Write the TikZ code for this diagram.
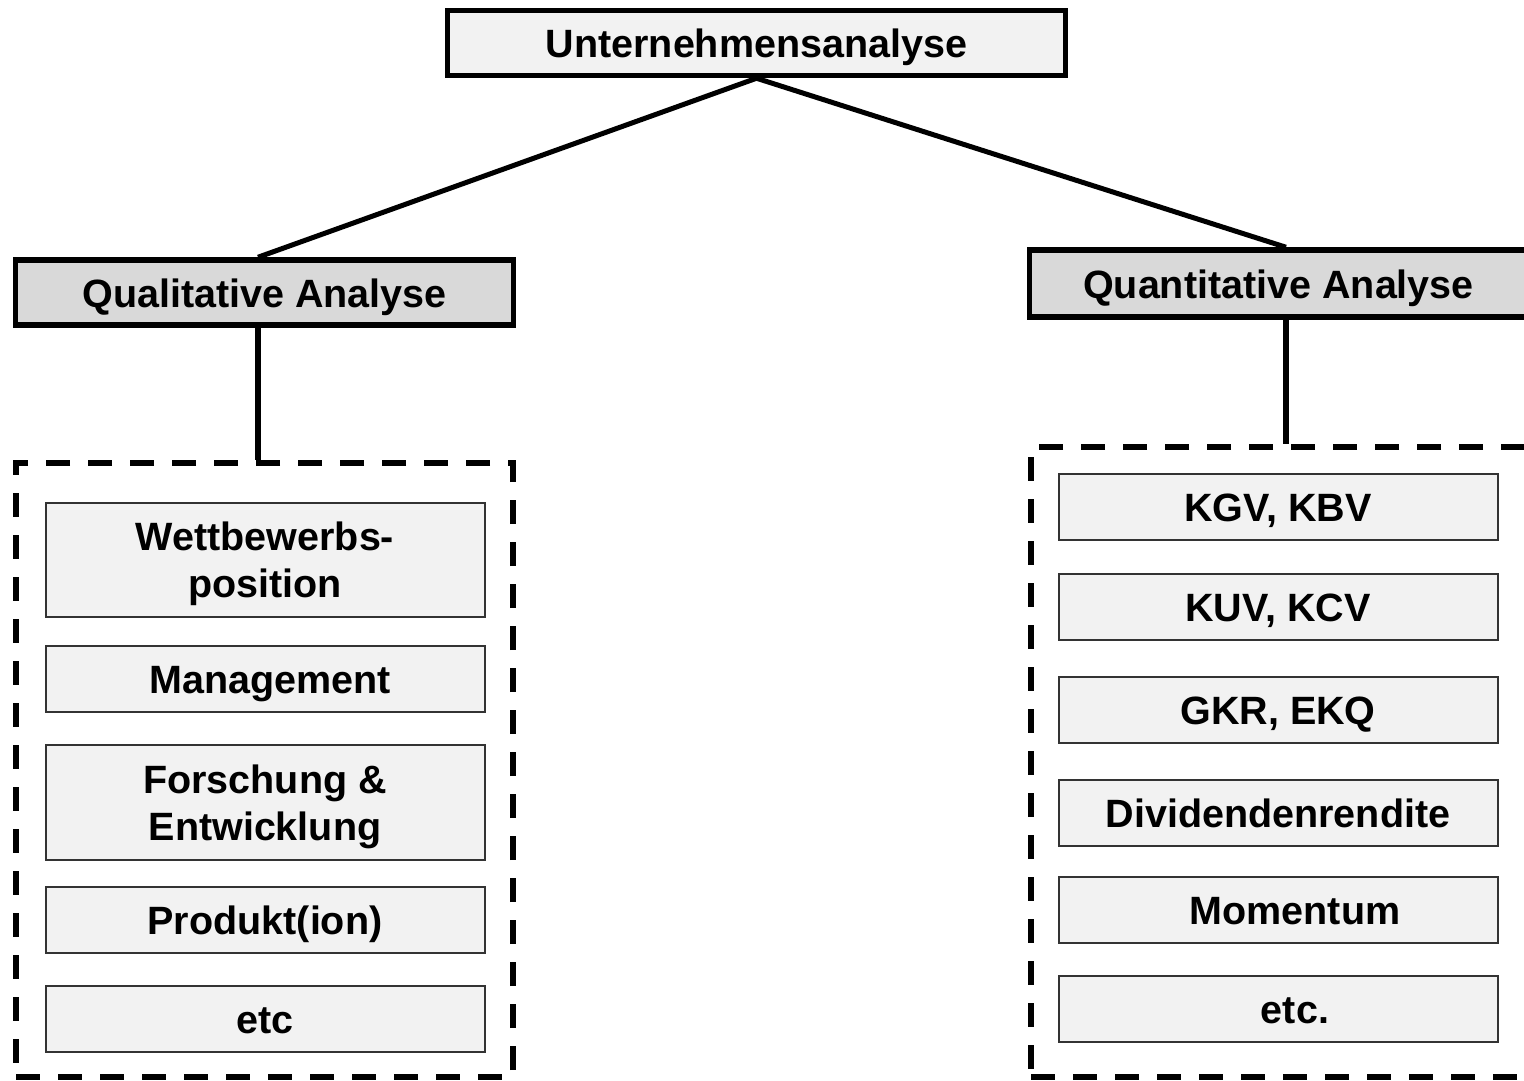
\documentclass[tikz,border=0pt]{standalone}
\usepackage{fontspec}
\setmainfont{Liberation Sans}
\definecolor{boxlight}{HTML}{F2F2F2}
\definecolor{boxmid}{HTML}{D9D9D9}
\tikzset{
  lbl/.style={font=\fontsize{39.5}{47}\selectfont\bfseries, align=center, inner sep=0pt, text height=37pt, text depth=8pt},
  twoline/.style={text height=, text depth=},
  topbox/.style={lbl, draw, line width=5.5pt, fill=boxlight, minimum width=618pt, minimum height=65pt},
  catbox/.style={lbl, draw, line width=5.5pt, fill=boxmid, minimum width=498pt, minimum height=65pt},
  itembox/.style={lbl, draw=black!80, line width=2pt, fill=boxlight, minimum width=439pt, minimum height=66pt},
  conn/.style={line width=5pt},
  stem/.style={line width=6pt},
  group/.style={draw, line width=6pt, dash pattern=on 24pt off 18pt, inner sep=0pt}
}
\newcommand{\firststrut}{\rule{0pt}{38pt}}
\begin{document}
\begin{tikzpicture}[x=1pt,y=-1pt]
\useasboundingbox (0,0) rectangle (1524,1081);
\clip (0,0) rectangle (1524,1081);
% group frames
\node[group, minimum width=497pt, minimum height=614pt] (gL) at (264.5,770) {};
\node[group, minimum width=499pt, minimum height=630pt] (gR) at (1280.5,762) {};
% top and category boxes
\node[topbox] (top) at (756.5,43) {Unternehmensanalyse};
\node[catbox] (qual) at (264.5,292.5) {Qualitative Analyse};
\node[catbox, minimum height=67pt] (quant) at (1278.5,283.5) {Quantitative Analyse};
\coordinate (qualc) at ([xshift=-6.5pt]qual.north);
\coordinate (quantc) at ([xshift=7.5pt]quant.north);
\draw[conn] (qualc) -- (top.south) -- (quantc);
\draw[stem] ([xshift=-6.5pt]qual.south) -- ([xshift=-6.5pt]qual.south |- gL.north);
\draw[stem] ([xshift=7.5pt]quant.south) -- ([xshift=7.5pt]quant.south |- gR.north);
% qualitative items
\node[itembox, twoline, minimum height=114pt] (w) at (265,559.5) {\firststrut Wettbewerbs-\\position};
\node[itembox] (m) at (265,679) {\hspace*{10pt}Management};
\node[itembox, twoline, minimum height=115pt] (f) at (265,802) {\firststrut Forschung \&\\Entwicklung};
\node[itembox] (p) at (265,919.5) {Produkt(ion)};
\node[itembox] (e1) at (265,1018.5) {etc};
% quantitative items
\node[itembox] (k1) at (1278,506.5) {KGV, KBV};
\node[itembox] (k2) at (1278,606.5) {KUV, KCV};
\node[itembox] (k3) at (1278,709.5) {GKR, EKQ};
\node[itembox] (d) at (1278,812.5) {Dividendenrendite};
\node[itembox] (mo) at (1278,909.5) {\hspace*{34pt}Momentum};
\node[itembox] (e2) at (1278,1008.5) {\hspace*{34pt}etc.};
\end{tikzpicture}
\end{document}
